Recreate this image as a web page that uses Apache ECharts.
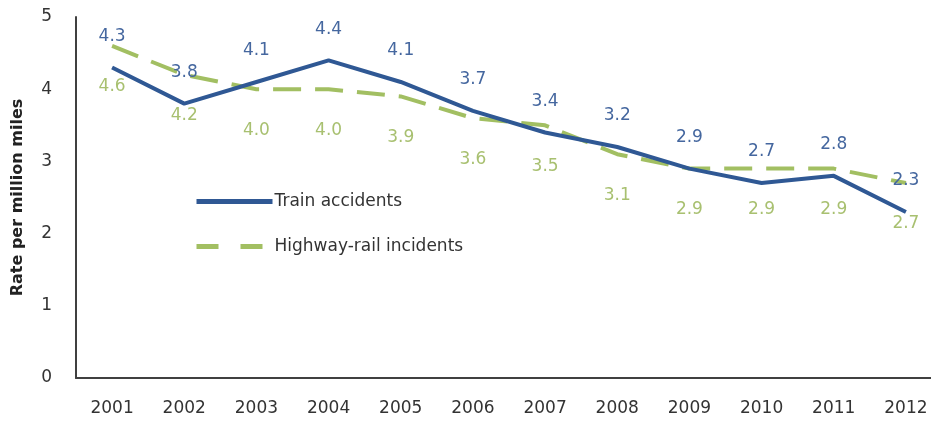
<!DOCTYPE html>
<html><head><meta charset="utf-8">
<script src="https://cdn.jsdelivr.net/npm/echarts@6/dist/echarts.min.js"></script>
<style>html,body{margin:0;padding:0;background:#fff;overflow:hidden}#c{width:950px;height:423px}</style>
</head><body><div id="c"></div>
<script>
const years = ['2001','2002','2003','2004','2005','2006','2007','2008','2009','2010','2011','2012'];
const trainAccidents = [4.3,3.8,4.1,4.4,4.1,3.7,3.4,3.2,2.9,2.7,2.8,2.3];
const highwayRail = [4.6,4.2,4.0,4.0,3.9,3.6,3.5,3.1,2.9,2.9,2.9,2.7];
const yTicks = [0,1,2,3,4,5];

const FONT = 'DejaVu Sans';
const BLUE = '#2f5894', GREEN = '#a2bf62';
const chart = echarts.init(document.getElementById('c'));
chart.setOption({
  animation: false,
  textStyle: {fontFamily: FONT},
  grid: {left: 76, top: 17, width: 866, height: 361, containLabel: false},
  legend: {
    orient: 'vertical', left: 189, top: 188, itemWidth: 76, itemHeight: 14, itemGap: 28,
    textStyle: {fontFamily: FONT, fontSize: 17, color: '#333', padding: [0,0,0,-3]},
    data: [
      {name: 'Train accidents', itemStyle: {color: 'transparent', borderWidth: 0}, lineStyle: {color: BLUE, width: 5, type: 'solid'}},
      {name: 'Highway-rail incidents', itemStyle: {color: 'transparent', borderWidth: 0}, lineStyle: {color: GREEN, width: 5, type: [22, 22]}}
    ]
  },
  xAxis: {
    type: 'category', data: years, boundaryGap: true,
    axisLine: {lineStyle: {color: '#404040', width: 2}},
    axisTick: {show: false},
    axisLabel: {fontFamily: FONT, fontSize: 17, color: '#333', margin: 22}
  },
  yAxis: {
    type: 'value', min: 0, max: 5, interval: 1,
    name: 'Rate per million miles', nameLocation: 'middle', nameGap: 50,
    nameTextStyle: {fontFamily: FONT, fontSize: 16, fontWeight: 'bold', color: '#222'},
    axisLine: {show: true, lineStyle: {color: '#404040', width: 2}},
    axisTick: {show: false},
    splitLine: {show: false},
    axisLabel: {fontFamily: FONT, fontSize: 17, color: '#333', margin: 24,
      formatter: v => yTicks.includes(v) ? String(v) : ''}
  },
  series: [
    {
      name: 'Highway-rail incidents', type: 'line', data: highwayRail,
      symbol: 'circle', symbolSize: 1, showSymbol: true,
      lineStyle: {color: GREEN, width: 4, type: [28, 14]},
      itemStyle: {color: 'transparent', borderWidth: 0},
      label: {show: true, position: 'bottom', distance: 32, fontFamily: FONT, fontSize: 17, color: '#a8c070',
        formatter: p => p.value.toFixed(1)}
    },
    {
      name: 'Train accidents', type: 'line', data: trainAccidents,
      symbol: 'circle', symbolSize: 1, showSymbol: true,
      lineStyle: {color: BLUE, width: 4},
      itemStyle: {color: 'transparent', borderWidth: 0},
      label: {show: true, position: 'top', distance: 22, fontFamily: FONT, fontSize: 17, color: '#45679f',
        formatter: p => p.value.toFixed(1)}
    }
  ]
});
</script></body></html>
